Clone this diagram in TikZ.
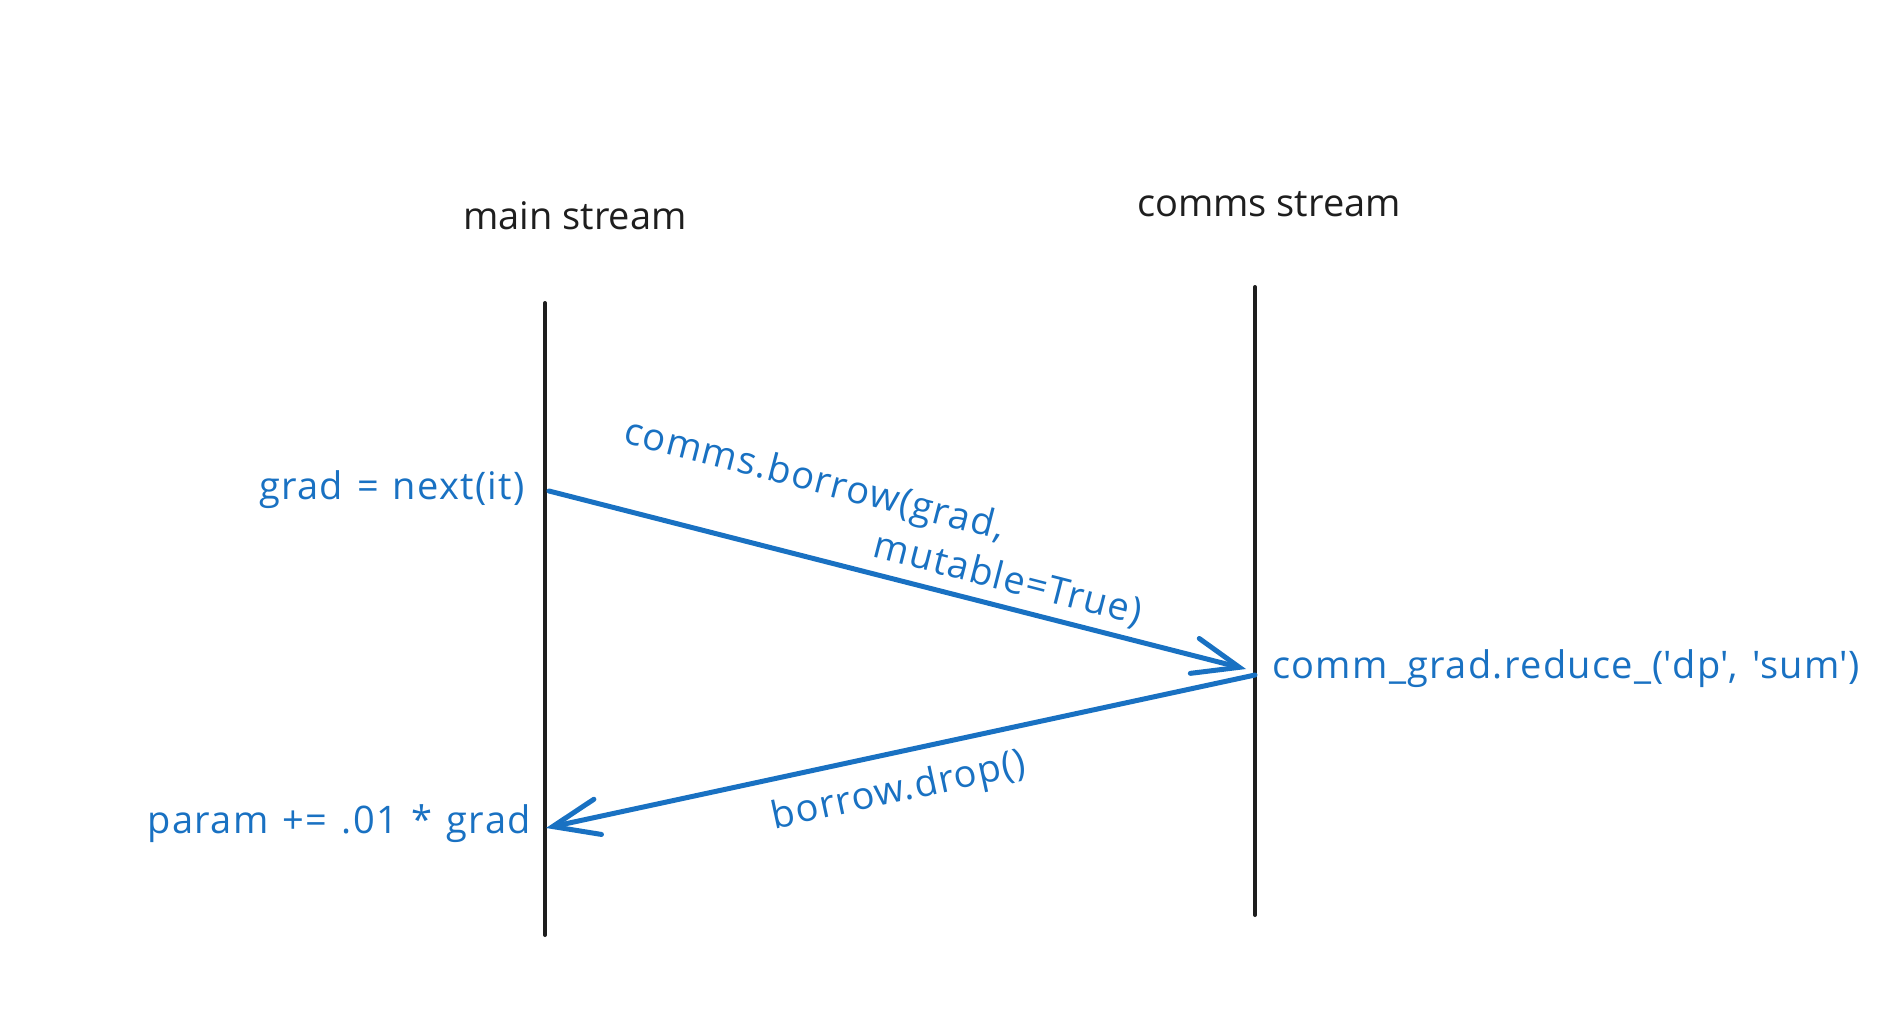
\documentclass[tikz,border=0pt]{standalone}
\usepackage{fontspec}
\setmainfont{Open Sans}
\newfontfamily\codefont[LetterSpace=3.5,WordSpace=1.25]{Open Sans}
\usetikzlibrary{arrows.meta}
\definecolor{inkblue}{HTML}{1971C2}
\definecolor{inkblack}{HTML}{1E1E1E}
\tikzset{
  lifeline/.style={draw=inkblack, line width=4pt, line cap=round},
  msgarrow/.style={draw=inkblue, line width=5pt, line cap=round,
    -{Straight Barb[length=46pt,width=36pt,line cap=round]}},
  head/.style={text=inkblack, font=\fontsize{38}{44}\selectfont, inner sep=0pt},
  code/.style={text=inkblue, font=\codefont\fontsize{38}{44}\selectfont, inner sep=0pt},
}
\begin{document}
\begin{tikzpicture}[x=1pt,y=-1pt]
\useasboundingbox (0,0) rectangle (1900,1030);
% headers
\node[head] (mainh) at (575,216) {main stream};
\node[head] (commh) at (1269,204) {comms stream};
% lifelines
\coordinate (mtop) at (545,303);
\coordinate (mbot) at (545,935);
\coordinate (ctop) at (1255,287);
\coordinate (cbot) at (1255,915);
\draw[lifeline] (mtop) -- (mbot);
\draw[lifeline] (ctop) -- (cbot);
% message points
\coordinate (m1) at (549,491);
\coordinate (c1) at (1246,669);
\coordinate (c2) at (1255,675);
\coordinate (m2) at (546,828);
\draw[msgarrow] (m1) -- (c1);
\draw[msgarrow] (c2) -- (m2);
% side texts
\node[code, anchor=east] (gradt) at (525,490) {grad = next(it)};
\node[code, anchor=west] (redt) at (1272,669) {comm\_grad.reduce\_(\textquotesingle dp\textquotesingle, \textquotesingle sum\textquotesingle)};
\node[code, anchor=east] (paramt) at (531,824) {param += .01 * grad};
% arrow labels
\node[code, rotate=-14.4] (borrowt) at (814,482) {comms.borrow(grad,};
\node[code, rotate=-14.4] (mutt) at (1008,580) {mutable=True)};
\node[code, rotate=12.2] (dropt) at (899,792) {borrow.drop()};
\end{tikzpicture}
\end{document}
